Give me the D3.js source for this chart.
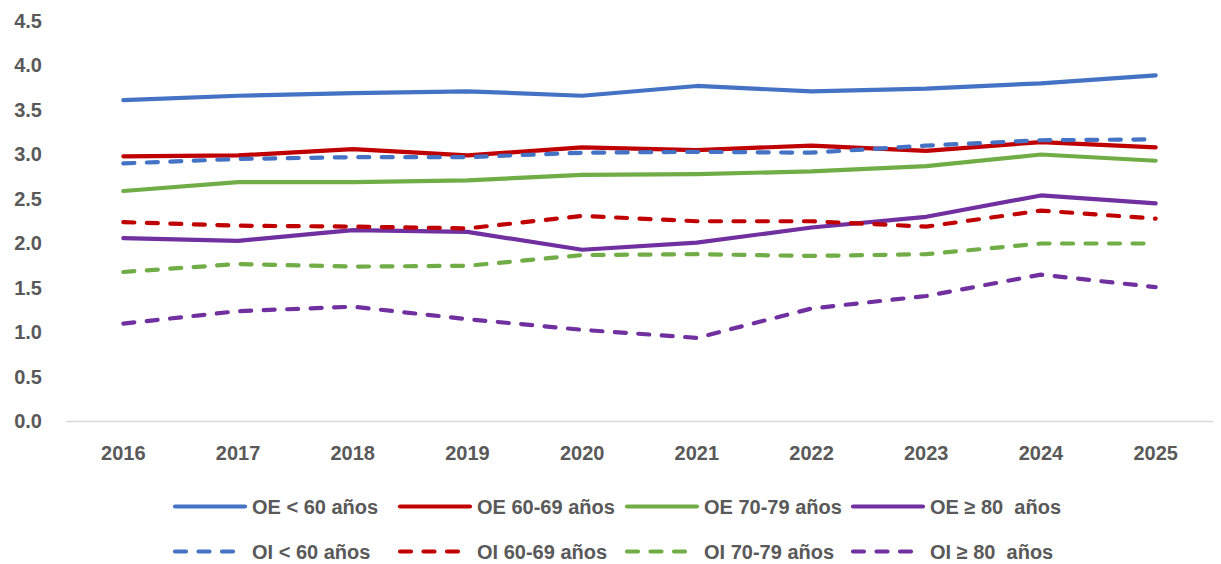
<!DOCTYPE html>
<html><head><meta charset="utf-8">
<script src="https://cdn.jsdelivr.net/npm/d3@7"></script>
<style>
body{margin:0;background:#fff;}
text{font-family:"Liberation Sans",Arial,sans-serif;font-weight:bold;fill:#595959;}
</style></head>
<body><svg id="c" width="1221" height="564"></svg>
<script>
const years = ["2016","2017","2018","2019","2020","2021","2022","2023","2024","2025"];
const yTicks = [0,0.5,1,1.5,2,2.5,3,3.5,4,4.5];
const oeLt60  = [3.61,3.66,3.69,3.71,3.66,3.77,3.71,3.74,3.80,3.89];
const oe6069  = [2.98,2.99,3.06,2.99,3.08,3.05,3.10,3.04,3.14,3.08];
const oe7079  = [2.59,2.69,2.69,2.71,2.77,2.78,2.81,2.87,3.00,2.93];
const oeGe80  = [2.06,2.03,2.15,2.13,1.93,2.01,2.18,2.30,2.54,2.45];
const oiLt60  = [2.90,2.95,2.97,2.97,3.02,3.03,3.02,3.10,3.16,3.17];
const oi6069  = [2.24,2.20,2.19,2.17,2.31,2.25,2.25,2.19,2.37,2.28];
const oi7079  = [1.68,1.77,1.74,1.75,1.87,1.88,1.86,1.88,2.00,2.00];
const oiGe80  = [1.10,1.24,1.29,1.15,1.03,0.94,1.27,1.41,1.65,1.51];
const seriesNames = ["OE < 60 años","OE 60-69 años","OE 70-79 años","OE \u2265 80  años",
                     "OI < 60 años","OI 60-69 años","OI 70-79 años","OI \u2265 80  años"];
const seriesValues = [oeLt60,oe6069,oe7079,oeGe80,oiLt60,oi6069,oi7079,oiGe80];
const colors = ["#4472C4","#C00000","#70AD47","#7030A0"];

const svg = d3.select("#c");
const x = d3.scaleBand().domain(years).range([66,1213]);
const y = d3.scaleLinear().domain([0,4.5]).range([421.5,21]);
const FS = "20px";

svg.append("line").attr("x1",66).attr("x2",1213).attr("y1",y(0)).attr("y2",y(0))
  .attr("stroke","#d9d9d9").attr("stroke-width",1.3);

const yAxis = d3.axisLeft(y).tickValues(yTicks).tickFormat(d3.format(".1f")).tickSize(0).tickPadding(0);
const gy = svg.append("g").attr("transform","translate(42,0)").call(yAxis);
gy.select(".domain").remove();
gy.selectAll("text").style("font-size",FS).attr("fill","#595959").attr("font-family",null);

const xAxis = d3.axisBottom(x).tickSize(0).tickPadding(0);
const gx = svg.append("g").attr("transform","translate(0,446)").call(xAxis);
gx.select(".domain").remove();
gx.selectAll("text").style("font-size",FS).attr("fill","#595959").attr("font-family",null);

const line = d3.line().x((d,i)=>x(years[i])+x.bandwidth()/2).y(d=>y(d));
seriesValues.forEach((vals,k)=>{
  svg.append("path").datum(vals).attr("d",line)
    .attr("fill","none").attr("stroke",colors[k%4]).attr("stroke-width",4.2)
    .attr("stroke-linecap","round").attr("stroke-linejoin","round")
    .attr("stroke-dasharray", k>=4 ? "11,12.5" : null);
});

const legX = [175,400,627,853];
const legY = [506.5,551.5];
seriesNames.forEach((name,k)=>{
  const col = k%4, row = Math.floor(k/4);
  const g = svg.append("g");
  g.append("line").attr("x1",legX[col]).attr("x2",legX[col]+70)
    .attr("y1",legY[row]).attr("y2",legY[row])
    .attr("stroke",colors[col]).attr("stroke-width",4.2).attr("stroke-linecap","round")
    .attr("stroke-dasharray", row===1 ? "11,12.5" : null);
  g.append("text").attr("x",legX[col]+77).attr("y",legY[row]).attr("dy","0.35em")
    .style("font-size",FS).style("white-space","pre").text(name);
});
</script></body></html>
